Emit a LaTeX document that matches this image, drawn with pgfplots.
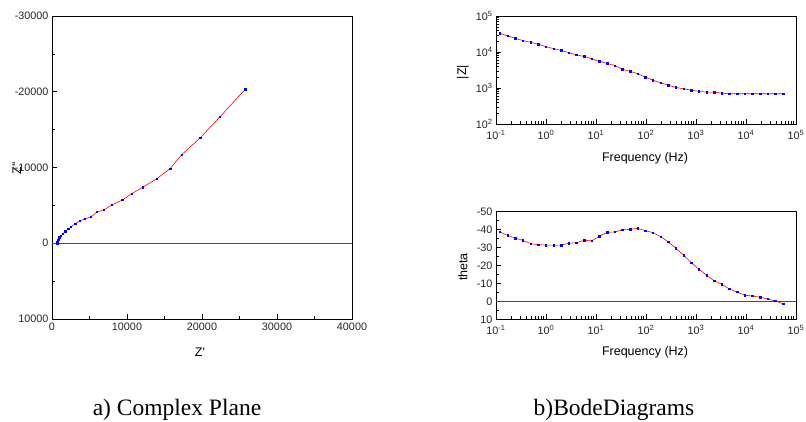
\documentclass[border=0pt]{standalone}
\usepackage{pgfplots}
\pgfplotsset{compat=1.18}
\usepackage{pgfplotstable}
\usepackage{fontspec}
\setmainfont{Liberation Sans}
\newfontfamily\capfont{Liberation Serif}

% Nyquist data (Z', Z'')
\pgfplotstableread{
zr     zi
25750  -20300
22400  -16700
19800  -13950
17300  -11700
15750  -9850
13950  -8500
12100  -7400
10650  -6550
9400   -5720
8000   -5050
6900   -4400
6000   -4120
5200   -3480
4350   -3200
3700   -2940
3100   -2590
2520   -2150
2170   -1880
1800   -1590
1450   -1240
1200   -980
1000   -760
880    -560
820    -430
790    -340
765    -270
745    -210
735    -160
730    -125
712    -100
700    -75
695    -55
692    -40
690    -33
690    -25
690    -15
690    -3
690    12
}\nyq

% Bode data: frequency, |Z|, theta
\pgfplotstableread{
f      absz    th
0.120  33000   -38.7
0.171  27900   -36.8
0.243  24000   -35.3
0.346  20700   -34.0
0.492  18600   -32.2
0.700  16400   -31.6
0.995  14100   -31.4
1.416  12400   -31.4
2.014  11000   -31.4
2.864  9600    -32.4
4.074  8300    -32.7
5.794  7500    -34.0
8.241  6400    -33.8
11.72  5500    -36.3
16.67  4800    -38.5
23.71  4200    -38.7
33.73  3300    -39.8
47.97  2900    -40.2
68.23  2500    -40.7
97.05  2000    -39.4
138.0  1650    -38.3
196.3  1390    -36.1
279.3  1200    -33.1
397.2  1035    -29.6
564.9  950     -25.7
803.5  872     -21.6
1143   800     -18.0
1626   770     -14.5
2312   770     -11.5
3289   720     -9.5
4677   690     -6.9
6653   690     -5.2
9462   690     -3.4
13460  690     -3.0
19140  690     -2.3
27230  690     -1.3
38730  690     -0.2
55080  690     1.3
}\bode

\pgfplotsset{
  eis/.style={
    scale only axis,
    width=300pt,
    axis line style={black, line width=0.8pt},
    every tick/.style={black, line width=0.6pt},
    major tick length=5pt,
    minor tick length=3pt,
    tick align=inside,
    xtick pos=bottom,
    ytick pos=left,
    ticklabel style={font=\fontsize{10.8}{12}\selectfont, text=black!85},
    label style={font=\fontsize{12.5}{14}\selectfont},
    /pgf/number format/assume math mode=true,
    /pgf/number format/1000 sep={},
    scaled ticks=false,
    clip=false,
  },
  logx/.style={
    xmin=0.1, xmax=100000,
    xtick={0.1,1,10,100,1000,10000,100000},
    xticklabels={10\textsuperscript{-1},10\textsuperscript{0},10\textsuperscript{1},10\textsuperscript{2},10\textsuperscript{3},10\textsuperscript{4},10\textsuperscript{5}},
    xticklabel style={yshift=-2.5pt},
  },
  zline/.style={red, line width=0.6pt, mark=square*, mark size=0.75pt,
    mark options={draw=blue, fill=blue}},
  zeroline/.style={black!70, line width=0.8pt},
}

\begin{document}
\begin{tikzpicture}
\path[use as bounding box] (0,0) rectangle (806pt,422pt);

% a) complex plane
\begin{axis}[eis,
  at={(52pt,103pt)}, anchor=south west,
  height=303pt,
  xmin=0, xmax=40000,
  ymin=-30000, ymax=10000,
  y dir=reverse,
  xtick={0,10000,...,40000},
  minor xtick={5000,15000,25000,35000},
  ytick={-30000,-20000,...,10000},
  minor ytick={-25000,-15000,-5000,5000},
  xlabel={Z\textquotesingle},
  xlabel style={at={(axis description cs:0.493,-0.109)}, anchor=center},
  ylabel={Z\textquotesingle\textquotesingle},
  ylabel style={at={(axis description cs:-0.117,0.498)}, anchor=center},
]
\addplot[zeroline] coordinates {(0,0) (40000,0)};
\addplot[zline] table[x=zr, y=zi] {\nyq};
\end{axis}

% b) Bode |Z|
\begin{axis}[eis, xmode=log, ymode=log, logx,
  at={(496pt,298pt)}, anchor=south west,
  height=108pt,
  ymin=100, ymax=100000,
  ytick={100,1000,10000,100000},
  yticklabels={10\textsuperscript{2},10\textsuperscript{3},10\textsuperscript{4},10\textsuperscript{5}},
  xlabel={Frequency (Hz)},
  xlabel style={at={(axis description cs:0.497,-0.315)}, anchor=center},
  ylabel={|Z|},
  ylabel style={at={(axis description cs:-0.11,0.48)}, anchor=center},
]
\addplot[zline] table[x=f, y=absz] {\bode};
\end{axis}

% b) Bode theta
\begin{axis}[eis, xmode=log, logx,
  at={(496pt,102.7pt)}, anchor=south west,
  height=107.6pt,
  ymin=-50, ymax=10,
  y dir=reverse,
  ytick={-50,-40,...,10},
  minor ytick={-45,-35,...,5},
  xlabel={Frequency (Hz)},
  xlabel style={at={(axis description cs:0.497,-0.304)}, anchor=center},
  ylabel={theta},
  ylabel style={at={(axis description cs:-0.11,0.486)}, anchor=center},
]
\addplot[zeroline] coordinates {(0.1,0) (100000,0)};
\addplot[zline] table[x=f, y=th] {\bode};
\end{axis}

\node[font=\capfont\fontsize{23.5}{26}\selectfont, anchor=base] at (177pt,6pt) {a) Complex Plane};
\node[font=\capfont\fontsize{23.5}{26}\selectfont, anchor=base] at (614pt,6pt) {b)BodeDiagrams};
\end{tikzpicture}
\end{document}
